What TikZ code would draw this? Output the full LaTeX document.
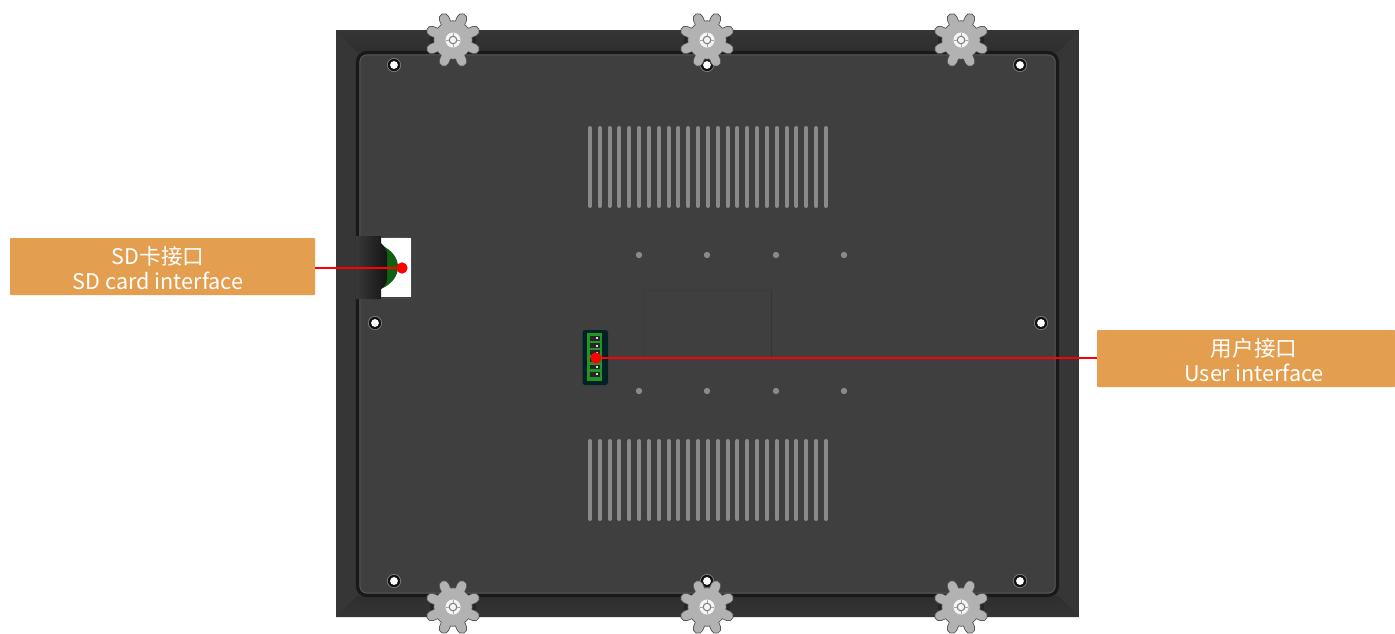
\documentclass[tikz,border=0pt]{standalone}
\usepackage{fontspec}
\setmainfont{Noto Sans CJK SC}
\begin{document}
\begin{tikzpicture}[x=0.75pt,y=-0.75pt,
  callout/.style={fill=calloutc,rounded corners=0.7pt,inner sep=0pt,minimum width=#1*0.75pt,minimum height=42.75pt},
  calltext/.style={align=center,text=white,inner sep=0pt,font=\fontsize{16.2pt}{18.8pt}\selectfont},
  reddot/.style={circle,fill=red,inner sep=0pt,minimum size=8.5pt},
  leader/.style={draw=red,line width=2pt},
  bar/.style={draw=barc,line width=3pt,line cap=round},
  gridhole/.style={circle,fill=barc,inner sep=0pt,minimum size=4.8pt},
  gearc/.pic={
    \fill[geared] (0,0) circle (19.6);
    \foreach \a in {22.5,67.5,...,337.5} \draw[geared,line width=8pt,line cap=round] (\a:12) -- (\a:23.2);
    \fill[gearfill] (0,0) circle (18.8);
    \foreach \a in {22.5,67.5,...,337.5} \draw[gearfill,line width=6.8pt,line cap=round] (\a:12) -- (\a:23.2);
    \fill[white!92!gray] (0,0) circle (7.5);
    \draw[gray,line width=0.8pt] (0,0) circle (3.8);
    \draw[gray!70,line width=0.7pt] (-7,0)--(-4,0) (7,0)--(4,0) (0,-7)--(0,-4) (0,7)--(0,4);
  }]
\definecolor{calloutc}{HTML}{E39E50}
\definecolor{barc}{HTML}{8A8A8A}
\definecolor{gearfill}{HTML}{B2B2B2}
\definecolor{geared}{HTML}{505050}
\definecolor{outerc}{HTML}{363636}
\definecolor{stripa}{HTML}{353535}
\definecolor{stripb}{HTML}{2E2E2E}
\definecolor{innerc}{HTML}{3F3F3F}
\useasboundingbox (0,0) rectangle (1395,633);
\fill[white] (0,0) rectangle (1395,633);
% outer plate
\fill[outerc] (336,30) rectangle (1079,617);
\shade[top color=stripa,bottom color=stripb] (336,30) -- (1079,30) -- (1058,52) -- (357,52) -- cycle;
\shade[top color=stripb,bottom color=stripa] (357,596) -- (1058,596) -- (1079,617) -- (336,617) -- cycle;
% shadow under the gears, inside the plate only
\begin{scope}
  \clip (336,30) rectangle (1079,617);
  \foreach \x/\y in {453/40,707/40,961/40,453/607,707/607,961/607} {
    \fill[black!85] (\x,\y) circle (23);
  }
\end{scope}
% inner raised panel
\fill[innerc,draw=black!90,line width=2.4pt,rounded corners=7pt] (357.5,52.5) rectangle (1057.5,595.5);
\draw[white!14!innerc,line width=0.5pt,rounded corners=5pt] (360,55) rectangle (1055,593);
% SD slot
\fill[white] (381,238) rectangle (411,297);
\fill[green!35!black!85!gray] (381,245) .. controls (392,250) and (398,258) .. (398,267) .. controls (398,276) and (392,284) .. (381,289) -- cycle;
\shade[left color=black!78,right color=black!92] (356,236) -- (381,236) -- (381,243) .. controls (385,247) and (387,250) .. (387,254) -- (387,279) .. controls (387,283) and (385,286) .. (381,289) -- (381,299) -- (356,299) -- cycle;
\draw[black!70,line width=0.6pt] (381,237) -- (410,237) (411,238) -- (411,297) (410,298) -- (381,298);
% vents
\foreach \k in {0,...,24} {
  \draw[bar] ({590+9.83*\k},128) -- ({590+9.83*\k},206);
  \draw[bar] ({590+9.83*\k},441) -- ({590+9.83*\k},519);
}
% mounting dots
\foreach \x in {639,707,776,844} {
  \node[gridhole] at (\x,255) {};
  \node[gridhole] at (\x,391) {};
}
% faint outline
\draw[black!16!innerc,line width=0.6pt] (771,290) -- (771,358);
\draw[black!7!innerc,line width=0.6pt] (643,358) -- (643,290) -- (771,290);
% screw holes
\foreach \x/\y in {394/65,1020/65,707/65,394/581,1020/581,707/581,375/323,1041/323} {
  \fill[white!35!innerc] (\x,\y) circle (7);
  \fill[black!92] (\x,\y) circle (6.2);
  \fill[white] (\x,\y) circle (3.9);
}
% terminal block
\fill[black!85!green!85!blue,rounded corners=2pt] (582.5,330) rectangle (608,385);
\fill[green!50!black!85!white] (587,333) rectangle (602,381);
\foreach \k in {0,...,5} {
  \fill[black!85] (589.5,{336+7.2*\k}) rectangle (600,{340.6+7.2*\k});
  \fill[white!75!gray] (595.5,{337.3+7.2*\k}) rectangle (597.5,{339.3+7.2*\k});
}
% gears
\foreach \x/\y in {453/40,707/40,961/40,453/607,707/607,961/607} {
  \pic at (\x,\y) {gearc};
}
% callouts
\node[callout=305] (sdbox) at (162.5,266.5) {};
\node[callout=298] (userbox) at (1246,358.5) {};
\node[calltext] (sdtext) at (158,268) {SD卡接口\\SD card interface};
\node[calltext] (usertext) at (1254,360) {用户接口\\User interface};
\node[reddot] (sddot) at (402,268) {};
\node[reddot] (userdot) at (596,358) {};
\draw[leader] (sdbox.east |- sddot) -- (sddot);
\draw[leader] (userbox.west |- userdot) -- (userdot);
\end{tikzpicture}
\end{document}
